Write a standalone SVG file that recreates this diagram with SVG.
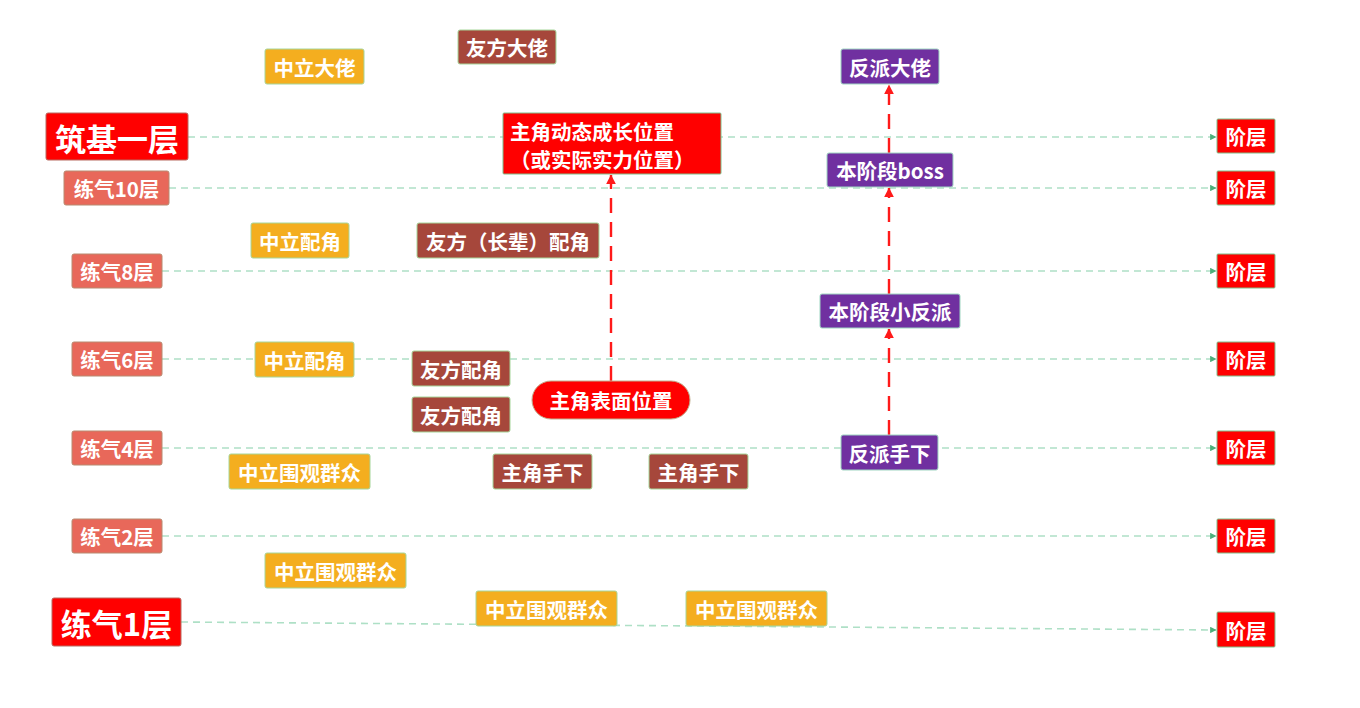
<svg xmlns="http://www.w3.org/2000/svg" width="1360" height="708" viewBox="0 0 1360 708">
<defs>
<marker id="ga" viewBox="0 0 6 6" refX="5.5" refY="3" markerWidth="4" markerHeight="4" orient="auto"><path d="M0,0 L6,3 L0,6 Z" fill="#4caf7a"/></marker>
<marker id="ra" viewBox="0 0 8 8" refX="7.5" refY="4" markerWidth="4" markerHeight="4" orient="auto"><path d="M0,0 L8,4 L0,8 Z" fill="#ff1a1a"/></marker>
</defs>
<style>
text{font-family:"Noto Sans CJK SC","Noto Sans",sans-serif;font-weight:bold;fill:#fff;dominant-baseline:central;text-anchor:middle;font-size:20.5px}
.lvl{fill:#e8685a;stroke:#b88a70;stroke-width:1}
.big{fill:#ff0000;stroke:#b86a60;stroke-width:1}
.stage{fill:#ff0000;stroke:#7fbf8a;stroke-width:1}
.neu{fill:#f4ae1f;stroke:#a6d69a;stroke-width:1}
.fri{fill:#a6473b;stroke:#a6d69a;stroke-width:1}
.ene{fill:#7030a0;stroke:#9fd6c2;stroke-width:1}
.hero{fill:#ff0000;stroke:#c0b090;stroke-width:1}
.gl{stroke:#aee0c6;stroke-width:1.6;stroke-dasharray:7 5;fill:none}
.rl{stroke:#ff1a1a;stroke-width:2.4;stroke-dasharray:15 9;fill:none}
.lt{font-size:20.5px}
.bt{font-size:31px}
</style>
<rect width="1360" height="708" fill="#fff"/>
<g id="connectors">
<line class="gl" x1="188" y1="137" x2="1216" y2="137" marker-end="url(#ga)"/>
<line class="gl" x1="169" y1="188" x2="1216" y2="188" marker-end="url(#ga)"/>
<line class="gl" x1="162" y1="271" x2="1216" y2="271" marker-end="url(#ga)"/>
<line class="gl" x1="162" y1="359" x2="1216" y2="359" marker-end="url(#ga)"/>
<line class="gl" x1="162" y1="448" x2="1216" y2="448" marker-end="url(#ga)"/>
<line class="gl" x1="162" y1="536" x2="1216" y2="536" marker-end="url(#ga)"/>
<line class="gl" x1="181" y1="622" x2="1216" y2="630" marker-end="url(#ga)"/>
<line class="rl" x1="611" y1="381" x2="611" y2="175" marker-end="url(#ra)"/>
<line class="rl" x1="889" y1="153" x2="889" y2="85" marker-end="url(#ra)"/>
<line class="rl" x1="889" y1="294" x2="889" y2="188" marker-end="url(#ra)"/>
<line class="rl" x1="889" y1="435" x2="889" y2="329" marker-end="url(#ra)"/>
</g>
<g id="lvl-zj1"><rect class="big" x="46" y="113" width="142" height="47" rx="2"/><text class="bt" x="117" y="137">筑基一层</text></g>
<g id="lvl-lq10"><rect class="lvl" x="64" y="171" width="105" height="34" rx="2"/><text class="lt" x="116.5" y="188">练气10层</text></g>
<g id="lvl-lq8"><rect class="lvl" x="72" y="254" width="90" height="34" rx="2"/><text class="lt" x="117" y="271">练气8层</text></g>
<g id="lvl-lq6"><rect class="lvl" x="72" y="342" width="90" height="34" rx="2"/><text class="lt" x="117" y="359">练气6层</text></g>
<g id="lvl-lq4"><rect class="lvl" x="72" y="431" width="90" height="34" rx="2"/><text class="lt" x="117" y="448">练气4层</text></g>
<g id="lvl-lq2"><rect class="lvl" x="72" y="519" width="90" height="34" rx="2"/><text class="lt" x="117" y="536">练气2层</text></g>
<g id="lvl-lq1"><rect class="big" x="52" y="598" width="129" height="48" rx="2"/><text class="bt" x="116.5" y="622">练气1层</text></g>
<g id="stage-1"><rect class="stage" x="1217" y="119" width="58" height="34" rx="1"/><text x="1246" y="136">阶层</text></g>
<g id="stage-2"><rect class="stage" x="1217" y="171" width="58" height="34" rx="1"/><text x="1246" y="188">阶层</text></g>
<g id="stage-3"><rect class="stage" x="1217" y="254" width="58" height="34" rx="1"/><text x="1246" y="271">阶层</text></g>
<g id="stage-4"><rect class="stage" x="1217" y="342" width="58" height="34" rx="1"/><text x="1246" y="359">阶层</text></g>
<g id="stage-5"><rect class="stage" x="1217" y="431" width="58" height="34" rx="1"/><text x="1246" y="448">阶层</text></g>
<g id="stage-6"><rect class="stage" x="1217" y="519" width="58" height="34" rx="1"/><text x="1246" y="536">阶层</text></g>
<g id="stage-7"><rect class="stage" x="1217" y="612" width="58" height="35" rx="1"/><text x="1246" y="630">阶层</text></g>
<g id="neu-boss"><rect class="neu" x="265" y="49" width="99" height="35" rx="2"/><text x="314.5" y="66.5">中立大佬</text></g>
<g id="fri-boss"><rect class="fri" x="458" y="30" width="98" height="34" rx="2"/><text x="507" y="47">友方大佬</text></g>
<g id="hero-real"><rect class="stage" x="503" y="113" width="218" height="61" rx="1"/><text x="510" y="131" style="text-anchor:start">主角动态成长位置</text><text x="510" y="159" style="text-anchor:start">（或实际实力位置）</text></g>
<g id="ene-boss"><rect class="ene" x="841" y="49" width="98" height="35" rx="2"/><text x="890" y="66.5">反派大佬</text></g>
<g id="ene-stageboss"><rect class="ene" x="827" y="153" width="126" height="34" rx="2"/><text x="890" y="170">本阶段boss</text></g>
<g id="neu-support1"><rect class="neu" x="251" y="223" width="98" height="35" rx="2"/><text x="300" y="240.5">中立配角</text></g>
<g id="fri-elder"><rect class="fri" x="417" y="223" width="182" height="35" rx="2"/><text x="508" y="240.5">友方（长辈）配角</text></g>
<g id="ene-small"><rect class="ene" x="820" y="294" width="140" height="34" rx="2"/><text x="890" y="311">本阶段小反派</text></g>
<g id="neu-support2"><rect class="neu" x="255" y="342" width="99" height="35" rx="2"/><text x="304.5" y="359.5">中立配角</text></g>
<g id="fri-support1"><rect class="fri" x="412" y="351" width="98" height="35" rx="2"/><text x="461" y="368.5">友方配角</text></g>
<g id="fri-support2"><rect class="fri" x="412" y="397" width="98" height="35" rx="2"/><text x="461" y="414.5">友方配角</text></g>
<g id="hero-surface"><rect class="hero" x="532" y="381" width="158" height="38" rx="19"/><text x="611" y="400">主角表面位置</text></g>
<g id="ene-minion"><rect class="ene" x="841" y="435" width="97" height="35" rx="2"/><text x="889.5" y="452.5">反派手下</text></g>
<g id="neu-crowd1"><rect class="neu" x="229" y="454" width="141" height="35" rx="2"/><text x="299.5" y="471.5">中立围观群众</text></g>
<g id="hero-minion1"><rect class="fri" x="493" y="454" width="99" height="35" rx="2"/><text x="542.5" y="471.5">主角手下</text></g>
<g id="hero-minion2"><rect class="fri" x="649" y="454" width="99" height="35" rx="2"/><text x="698.5" y="471.5">主角手下</text></g>
<g id="neu-crowd2"><rect class="neu" x="265" y="553" width="141" height="35" rx="2"/><text x="335.5" y="570.5">中立围观群众</text></g>
<g id="neu-crowd3"><rect class="neu" x="476" y="591" width="141" height="35" rx="2"/><text x="546.5" y="608.5">中立围观群众</text></g>
<g id="neu-crowd4"><rect class="neu" x="686" y="591" width="141" height="35" rx="2"/><text x="756.5" y="608.5">中立围观群众</text></g>
</svg>
